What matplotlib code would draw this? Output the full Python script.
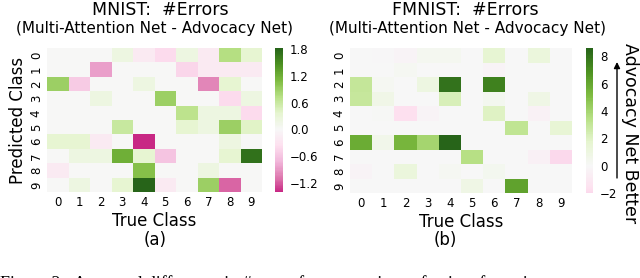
import numpy as np
import matplotlib
matplotlib.use("Agg")
import matplotlib.pyplot as plt
import seaborn as sns

classes = [str(i) for i in range(10)]

# rows = predicted class, columns = true class
mnist_diff = [
    [0, 0, 0, 0.2, -0.2, -0.4, 0.2, -0.2, 0.75, 0.35],
    [0, 0, -0.85, 0, 0, 0, -0.45, -0.2, -0.2, -0.2],
    [0.9, -0.55, 0, 0, 0.2, 0, 0, -1.0, 0.35, 0],
    [0, 0, 0.2, 0, 0, 0.9, 0, 0, -0.4, 0.2],
    [0, 0, 0, 0, 0, 0, 0.7, 0.2, 0.2, -0.4],
    [0, 0, 0, 0.6, 0, 0, 0.35, 0.2, 0.9, 0.4],
    [0.35, 0.35, -0.2, 0, -1.4, 0, 0, 0, 0.2, 0],
    [0, 0.2, 0.2, 1.2, 0.35, -0.6, 0, 0, 0.35, 1.7],
    [-0.2, 0, 0, 0, 1.05, 0, 0, 0.2, 0, 0],
    [0, 0.2, 0, 0.35, 1.82, -0.2, 0, 0.9, -1.15, 0],
]

fmnist_diff = [
    [0, -0.1, -0.3, 0.3, 0.3, 0, 1.6, 0, 1.2, 0],
    [0, 0, 0.2, 0, 0, 0, -0.3, 0, 0, 0],
    [3.0, 0.2, 0, 1.0, 8.0, 0, 7.5, 0, 0, 0],
    [2.9, 0.7, 0, 0, 2.3, 0, 0.4, 0, 0.8, 0],
    [0, 0.1, -1.7, -0.3, 0, 0, 2.0, 0, -0.4, 0],
    [0, 0, 0, 0, 0, 0, 0, 3.1, 0, 1.5],
    [5.8, 0.6, 5.4, 4.0, 8.6, 0, 0, 0, 0, 0],
    [0, 0, 0, 0, 0, 3.5, 0, 0, -0.5, -2.0],
    [-0.3, 0, 1.2, 0, 0.2, 0, 0.4, 0, 0, 0],
    [0, 0, 0, 0, 0, 0.8, 0, 6.2, 0, 0],
]

mnist_ticks = [-1.2, -0.6, 0.0, 0.6, 1.2, 1.8]
fmnist_ticks = [-2, 0, 2, 4, 6, 8]

W, H = 640, 278
fig = plt.figure(figsize=(6.4, 2.78), dpi=100)


def px(x0, y0, x1, y1):
    return [x0 / W, 1 - y1 / H, (x1 - x0) / W, (y1 - y0) / H]


ax1 = fig.add_axes(px(47, 48, 262, 192))
cax1 = fig.add_axes(px(275, 48, 283, 192))
ax2 = fig.add_axes(px(350, 48, 572, 193))
cax2 = fig.add_axes(px(586, 48, 593, 193))

sns.heatmap(np.array(mnist_diff), ax=ax1, cbar_ax=cax1, cmap="PiYG", center=0,
            xticklabels=classes, yticklabels=classes,
            cbar_kws={"ticks": mnist_ticks})
sns.heatmap(np.array(fmnist_diff), ax=ax2, cbar_ax=cax2, cmap="PiYG", center=0,
            xticklabels=classes, yticklabels=classes,
            cbar_kws={"ticks": fmnist_ticks})

for ax in (ax1, ax2):
    ax.tick_params(length=0, labelsize=8.5, pad=3)
    plt.setp(ax.get_yticklabels(), rotation=90, va="center")
    plt.setp(ax.get_xticklabels(), rotation=0)
    ax.set_xlabel("True Class", fontsize=12, labelpad=2)
ax1.set_ylabel("Predicted Class", fontsize=12, labelpad=2)

cax1.set_yticklabels(["\u22121.2", "\u22120.6", "0.0", "0.6", "1.2", "1.8"])
cax2.set_yticklabels(["\u22122", "0", "2", "4", "6", "8"])
for cax in (cax1, cax2):
    cax.tick_params(length=0, labelsize=8.5, pad=5)

# titles
fig.text(160 / W, 1 - 10 / H, "MNIST:  #Errors", ha="center", va="center", fontsize=12.5)
fig.text(154.5 / W, 1 - 28 / H, "(Multi-Attention Net - Advocacy Net)", ha="center", va="center", fontsize=11)
fig.text(465 / W, 1 - 10 / H, "FMNIST:  #Errors", ha="center", va="center", fontsize=12.5)
fig.text(467.5 / W, 1 - 28 / H, "(Multi-Attention Net - Advocacy Net)", ha="center", va="center", fontsize=11)

fig.text(155 / W, 1 - 240 / H, "(a)", ha="center", va="center", fontsize=12)
fig.text(445 / W, 1 - 240 / H, "(b)", ha="center", va="center", fontsize=12)

# side label with arrow
fig.text(630 / W, 1 - 133 / H, "Advocacy Net Better", rotation=270, ha="center", va="center", fontsize=12.5)
ax2.annotate("", xy=(617 / W, 1 - 62 / H), xytext=(617 / W, 1 - 178 / H),
             xycoords="figure fraction", textcoords="figure fraction",
             arrowprops=dict(arrowstyle="-|>", mutation_scale=9, color="black", lw=1,
                             shrinkA=0, shrinkB=0),
             annotation_clip=False)

# caption, mostly cut off at the bottom edge (as in the reference)
fig.text(0, 1 - 284 / H, "Figure 2:  Averaged difference in #errors for comparison of pairs of metrics",
         ha="left", va="center", fontsize=13, family="Liberation Serif")

fig.savefig("out.png", dpi=100)
